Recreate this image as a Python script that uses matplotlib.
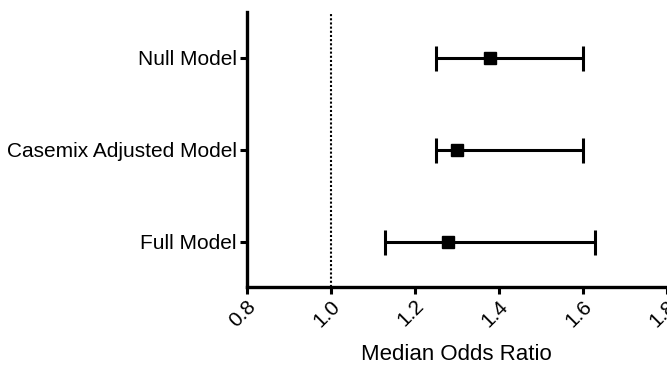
import matplotlib.pyplot as plt
import numpy as np

# Median odds ratios with 95% intervals, one row per model
models = ['Full Model', 'Casemix Adjusted Model', 'Null Model']
mor = [1.28, 1.30, 1.38]
lower = [1.13, 1.25, 1.25]
upper = [1.63, 1.60, 1.60]

plt.rcParams['font.family'] = ['Liberation Sans', 'DejaVu Sans']

fig = plt.figure(figsize=(6.67, 3.68), dpi=100)
ax = fig.add_axes([0.3696, 0.221, 0.6297, 0.747])

y = np.arange(len(models))
mor = np.array(mor)
err = np.vstack([mor - np.array(lower), np.array(upper) - mor])

ax.errorbar(mor, y, xerr=err, fmt='s', color='black', markersize=8,
            elinewidth=2.2, capsize=9, capthick=2.2)
ax.axvline(1.0, color='black', linestyle=(0, (1, 1)), linewidth=1.5)

ax.set_xlim(0.8, 1.8)
ax.set_ylim(-0.49, 2.5)
ax.set_yticks(y)
ax.set_yticklabels(models, fontsize=15)
ax.set_xticks(np.arange(0.8, 1.81, 0.2))
ax.set_xticklabels(['%.1f' % v for v in np.arange(0.8, 1.81, 0.2)],
                   rotation=45, ha='right', va='top', rotation_mode='anchor',
                   fontsize=15)
ax.set_xlabel('Median Odds Ratio', fontsize=16, labelpad=10)

for side in ['top', 'right']:
    ax.spines[side].set_visible(False)
for side in ['left', 'bottom']:
    ax.spines[side].set_linewidth(2.4)
ax.tick_params(width=2.2, length=5, pad=2)

fig.savefig('out.png', dpi=100)
